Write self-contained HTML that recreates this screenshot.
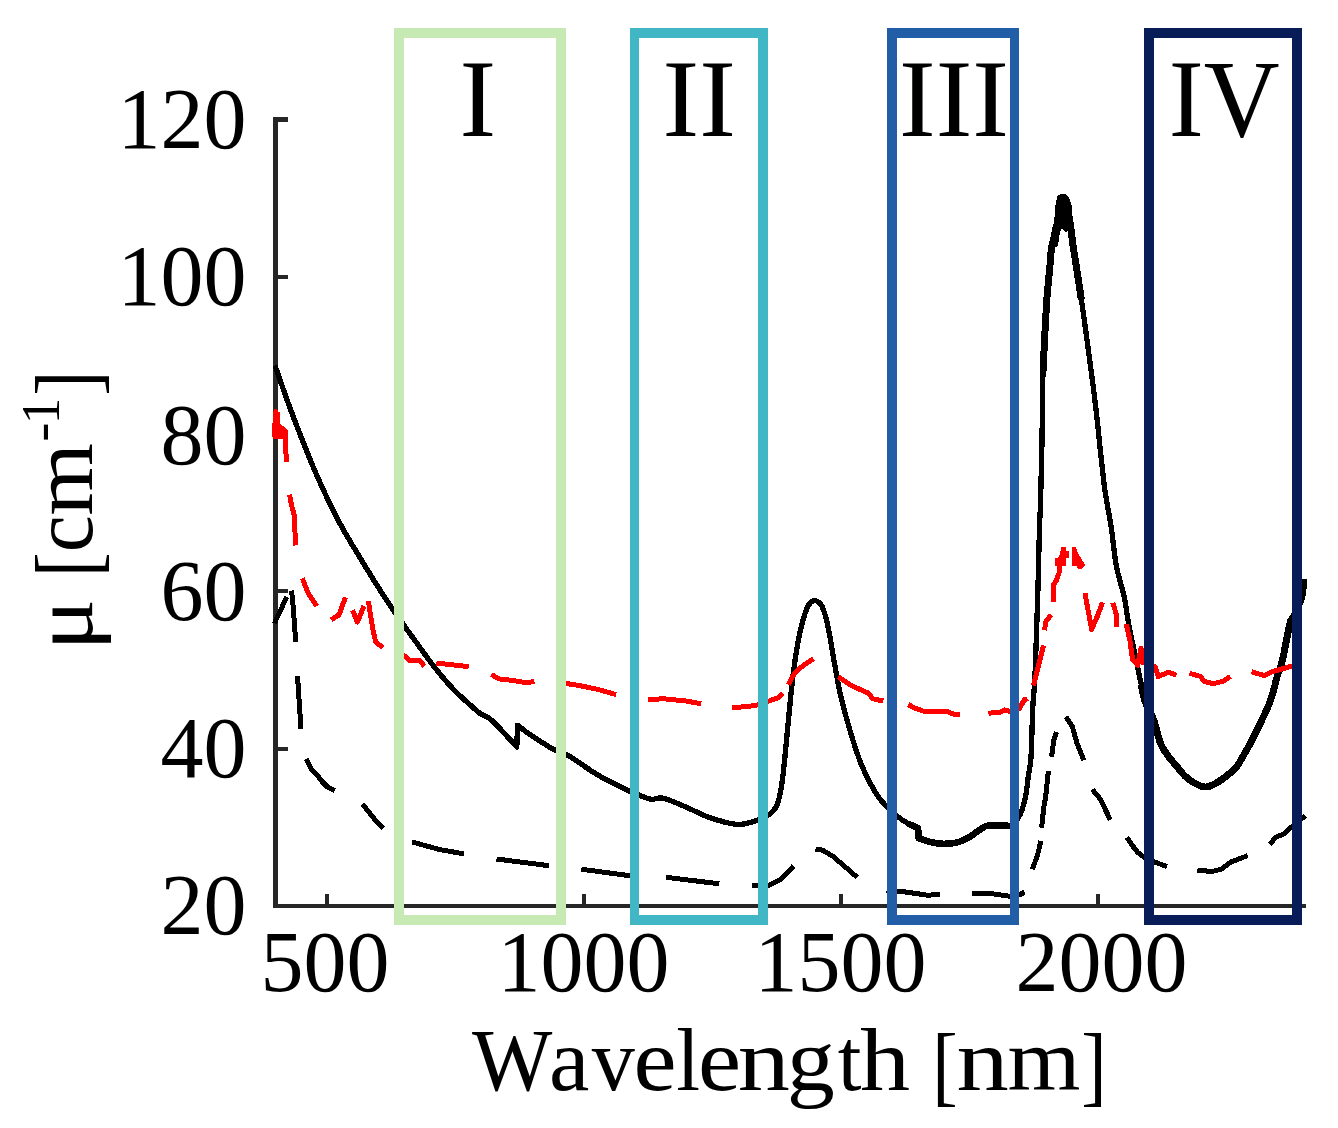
<!DOCTYPE html>
<html><head><meta charset="utf-8"><style>
html,body{margin:0;padding:0;background:#fff;overflow:hidden}
svg{display:block}
</style></head><body>
<svg width="1338" height="1128" viewBox="0 0 1338 1128">
<rect x="0" y="0" width="1338" height="1128" fill="#fff"/>
<g fill="#262626" shape-rendering="crispEdges">
<rect x="273" y="117" width="5" height="791"/>
<rect x="273" y="904" width="1033" height="4"/>
<rect x="278" y="117" width="10" height="5"/>
<rect x="278" y="275" width="10" height="4"/>
<rect x="278" y="432" width="10" height="4"/>
<rect x="278" y="589" width="10" height="4"/>
<rect x="278" y="747" width="10" height="4"/>
<rect x="325" y="894" width="4" height="10"/>
<rect x="582" y="894" width="4" height="10"/>
<rect x="839" y="894" width="4" height="10"/>
<rect x="1096" y="894" width="4" height="10"/>
</g>
<g fill="none" stroke-linejoin="round" stroke-linecap="butt" shape-rendering="crispEdges">
<path d="M275.0 365.5 C278.0 373.9 286.1 398.0 293.0 416.0 C299.9 434.0 308.4 456.0 316.1 473.7 C323.8 491.4 331.5 507.5 339.2 522.1 C346.9 536.7 354.5 548.6 362.2 561.3 C369.9 574.0 378.2 587.4 385.3 598.2 C392.4 609.0 399.1 618.2 404.5 626.0 C409.9 633.8 412.8 637.6 418.0 644.8 C423.2 652.0 429.9 661.5 435.9 669.0 C441.9 676.5 447.8 683.5 453.8 689.7 C459.8 696.0 467.5 702.5 472.0 706.5 C476.5 710.5 477.7 711.8 480.9 714.0 C484.1 716.2 486.7 715.9 491.4 720.0 C496.1 724.1 505.1 734.2 509.3 738.7 C513.5 743.2 515.5 745.5 516.8 746.9 C516.9 743.3 517.4 728.8 517.5 725.2 C519.9 727.0 525.3 731.5 531.7 735.7 C538.1 739.9 549.7 747.4 555.7 750.6 C561.7 753.8 561.1 751.4 567.6 755.1 C574.1 758.8 587.5 768.6 594.5 773.0 C601.5 777.4 603.5 778.2 609.5 781.3 C615.5 784.4 625.3 789.3 630.4 791.7 C635.5 794.1 636.5 794.2 640.0 795.5 C643.5 796.8 647.6 798.8 651.5 799.3 C655.4 799.8 657.3 796.9 663.1 798.2 C668.9 799.5 678.4 803.9 686.1 807.1 C693.8 810.3 700.8 814.5 709.2 817.4 C717.7 820.3 729.1 823.8 736.8 824.4 C744.5 825.0 749.5 822.8 755.3 820.9 C761.1 819.0 767.6 816.1 771.4 812.8 C775.2 809.5 776.4 807.4 778.3 801.3 C780.2 795.1 781.4 787.8 782.9 775.9 C784.4 764.0 786.0 745.2 787.5 729.8 C789.0 714.4 790.6 697.1 792.1 683.7 C793.6 670.3 795.2 658.8 796.8 649.2 C798.3 639.6 799.5 633.4 801.4 626.1 C803.3 618.8 806.0 609.6 808.3 605.4 C810.6 601.2 812.9 600.5 815.2 600.7 C817.5 600.9 820.0 602.3 822.1 606.5 C824.2 610.7 826.0 617.5 827.9 626.1 C829.8 634.8 831.5 646.9 833.6 658.4 C835.7 669.9 837.9 683.4 840.6 695.3 C843.3 707.2 846.3 718.3 849.8 729.8 C853.2 741.3 857.1 754.0 861.3 764.4 C865.5 774.8 870.9 785.0 875.1 792.1 C879.3 799.2 883.1 802.8 886.7 806.8 C890.3 810.8 893.2 813.0 896.8 815.8 C900.3 818.6 904.5 821.5 908.0 823.6 C911.5 825.7 916.4 827.4 918.1 828.1 C918.2 829.8 918.6 836.5 918.7 838.2 C920.7 838.9 926.4 841.2 930.4 842.1 C934.4 843.0 938.5 843.7 942.8 843.8 C947.1 843.9 952.1 843.6 956.2 842.7 C960.3 841.8 963.9 840.1 967.4 838.2 C970.9 836.3 974.3 833.5 977.5 831.5 C980.7 829.5 983.1 826.9 986.5 825.9 C989.9 824.9 993.8 825.5 997.7 825.5 C1001.6 825.5 1006.3 827.7 1010.0 825.9 C1013.7 824.1 1017.5 819.8 1020.1 814.7 C1022.7 809.7 1024.3 802.2 1025.7 795.6 C1027.1 789.0 1027.6 781.4 1028.5 775.0 C1029.4 768.6 1030.3 768.3 1031.0 757.0 C1031.7 745.7 1032.2 720.1 1032.8 707.3 C1033.4 694.5 1034.3 690.3 1034.8 680.4 C1035.3 670.5 1035.5 661.6 1036.0 647.8 C1036.5 633.9 1037.1 616.9 1037.7 597.3 C1038.3 577.7 1038.9 546.2 1039.4 530.0 C1039.9 513.8 1040.2 514.8 1040.6 499.8 C1041.0 484.8 1041.6 461.4 1042.0 440.0 C1042.4 418.6 1042.3 393.6 1043.0 371.5 C1043.7 349.4 1045.4 322.6 1046.3 307.7 C1047.2 292.8 1047.7 289.7 1048.4 282.1 C1049.1 274.5 1049.8 267.7 1050.3 262.0 C1050.8 256.3 1050.8 252.5 1051.5 248.0 C1052.2 243.5 1053.5 239.3 1054.5 235.0 C1055.5 230.7 1056.8 227.0 1057.5 222.0 C1058.2 217.0 1058.4 209.0 1059.0 205.0 C1059.6 201.0 1060.1 199.2 1061.0 198.0 C1061.9 196.8 1063.5 196.8 1064.5 198.0 C1065.5 199.2 1066.1 201.0 1067.0 205.0 C1067.9 209.0 1069.0 215.5 1070.0 222.0 C1071.0 228.5 1071.7 235.9 1072.8 243.8 C1073.9 251.7 1075.4 260.2 1076.8 269.4 C1078.2 278.6 1079.8 289.2 1081.3 299.1 C1082.8 309.0 1084.1 318.6 1085.5 328.9 C1086.9 339.2 1088.4 350.2 1089.8 360.9 C1091.2 371.5 1092.8 382.9 1094.0 392.8 C1095.2 402.7 1095.5 404.4 1097.2 420.0 C1098.9 435.6 1102.1 468.8 1104.4 486.5 C1106.7 504.2 1109.1 513.1 1111.1 526.4 C1113.1 539.7 1114.2 554.5 1116.4 566.3 C1118.6 578.1 1122.5 588.5 1124.4 597.3 C1126.3 606.1 1126.4 611.3 1127.8 619.2 C1129.2 627.1 1131.1 636.4 1132.8 644.5 C1134.5 652.6 1136.5 661.3 1137.9 668.0 C1139.3 674.7 1140.2 679.6 1141.3 684.9 C1142.4 690.2 1143.1 695.5 1144.6 700.0 C1146.0 704.5 1148.4 708.3 1150.0 712.0 C1151.6 715.7 1152.6 716.7 1154.4 722.0 C1156.2 727.3 1158.3 738.1 1160.7 743.9 C1163.1 749.7 1166.0 753.0 1168.7 756.7 C1171.4 760.4 1174.0 763.1 1176.7 766.3 C1179.4 769.5 1181.8 773.0 1184.7 775.8 C1187.6 778.6 1190.8 781.1 1194.3 783.0 C1197.8 784.9 1202.0 786.9 1205.4 787.0 C1208.9 787.1 1211.8 785.4 1215.0 783.8 C1218.2 782.2 1221.1 780.0 1224.6 777.4 C1228.0 774.8 1232.5 771.6 1235.7 767.9 C1238.9 764.2 1241.0 759.6 1243.7 755.1 C1246.4 750.6 1249.3 745.2 1251.7 740.7 C1254.1 736.2 1256.5 731.2 1258.1 728.0 C1259.7 724.8 1259.4 725.3 1261.3 721.2 C1263.2 717.1 1267.2 709.0 1269.3 703.6 C1271.4 698.2 1272.7 693.4 1274.0 689.0 C1275.3 684.6 1275.6 681.7 1277.0 677.0 C1278.4 672.3 1280.9 666.3 1282.3 661.0 C1283.7 655.7 1284.4 650.4 1285.5 645.1 C1286.6 639.8 1287.8 633.4 1288.7 629.1 C1289.6 624.9 1288.7 624.6 1290.9 619.6 C1293.1 614.6 1299.7 606.2 1302.0 599.4 C1304.3 592.6 1304.2 582.4 1304.6 579.0" stroke="#000" stroke-width="5.3"/>
<path d="M1043.0 371.5 C1043.5 360.9 1045.4 322.6 1046.3 307.7 C1047.2 292.8 1047.7 289.7 1048.4 282.1 C1049.1 274.5 1049.8 267.7 1050.3 262.0 C1050.8 256.3 1050.8 252.5 1051.5 248.0 C1052.2 243.5 1053.5 239.3 1054.5 235.0 C1055.5 230.7 1056.8 227.0 1057.5 222.0 C1058.2 217.0 1058.4 209.0 1059.0 205.0 C1059.6 201.0 1060.1 199.2 1061.0 198.0 C1061.9 196.8 1063.5 196.8 1064.5 198.0 C1065.5 199.2 1066.1 201.0 1067.0 205.0 C1067.9 209.0 1069.0 215.5 1070.0 222.0 C1071.0 228.5 1071.7 235.9 1072.8 243.8 C1073.9 251.7 1075.4 260.2 1076.8 269.4 C1078.2 278.6 1080.5 294.2 1081.3 299.1" stroke="#000" stroke-width="7"/>
<path d="M908.0 823.6 C909.7 824.4 916.4 827.4 918.1 828.1 C918.2 829.8 918.6 836.5 918.7 838.2 C920.7 838.9 926.4 841.2 930.4 842.1 C934.4 843.0 938.5 843.7 942.8 843.8 C947.1 843.9 952.1 843.6 956.2 842.7 C960.3 841.8 963.9 840.1 967.4 838.2 C970.9 836.3 974.3 833.5 977.5 831.5 C980.7 829.5 983.1 826.9 986.5 825.9 C989.9 824.9 993.8 825.5 997.7 825.5 C1001.6 825.5 1008.0 825.8 1010.0 825.9" stroke="#000" stroke-width="6.6"/>
<path d="M1057 205 L1057 196 L1061 194 L1064 196.5 L1066 195 L1069 197 L1071.5 205 L1072 226 L1069 231 L1065 232 L1062 228 L1060 232 L1058 246 L1053 249 L1051.5 230 L1054 222 L1057 220 Z" fill="#000" stroke="none"/>
<path d="M1141.3 684.9 C1141.8 687.4 1143.1 695.5 1144.6 700.0 C1146.0 704.5 1148.4 708.3 1150.0 712.0 C1151.6 715.7 1152.6 716.7 1154.4 722.0 C1156.2 727.3 1158.3 738.1 1160.7 743.9 C1163.1 749.7 1166.0 753.0 1168.7 756.7 C1171.4 760.4 1174.0 763.1 1176.7 766.3 C1179.4 769.5 1181.8 773.0 1184.7 775.8 C1187.6 778.6 1190.8 781.1 1194.3 783.0 C1197.8 784.9 1202.0 786.9 1205.4 787.0 C1208.9 787.1 1211.8 785.4 1215.0 783.8 C1218.2 782.2 1221.1 780.0 1224.6 777.4 C1228.0 774.8 1232.5 771.6 1235.7 767.9 C1238.9 764.2 1241.0 759.6 1243.7 755.1 C1246.4 750.6 1249.3 745.2 1251.7 740.7 C1254.1 736.2 1256.5 731.2 1258.1 728.0 C1259.7 724.8 1259.4 725.3 1261.3 721.2 C1263.2 717.1 1267.2 709.0 1269.3 703.6 C1271.4 698.2 1272.7 693.4 1274.0 689.0 C1275.3 684.6 1275.6 681.7 1277.0 677.0 C1278.4 672.3 1280.9 666.3 1282.3 661.0 C1283.7 655.7 1284.4 650.4 1285.5 645.1 C1286.6 639.8 1287.8 633.4 1288.7 629.1 C1289.6 624.9 1290.5 621.2 1290.9 619.6" stroke="#000" stroke-width="7"/>
<path d="M274.4 623.4 L286.8 596.8 M291.6 590.6 L293.5 610.0 L295.7 642.0 M297.5 675.7 L301.0 729.0 M306.1 758.8 L312.5 771.0 L317.5 775.0 L321.5 781.0 L327.0 786.5 L334.8 790.6 M362.6 804.2 L374.3 818.9 L383.3 828.3 M412.0 841.9 L438.9 849.4 L464.0 853.9 M496.5 859.0 L549.0 865.7 M581.3 869.2 L635.0 876.4 M666.0 877.3 L719.3 883.8 M751.6 885.9 L768.3 885.4 L780.9 879.5 L787.2 873.2 L793.5 865.9 M815.5 849.2 L822.8 850.2 L833.2 856.5 L857.3 877.4 M886.6 890.0 L906.5 892.1 L927.4 895.2 L940.0 894.6 M972.4 893.1 L990.2 893.5 L1010.0 896.3 L1019.0 895.0 L1024.7 892.1 M1032.4 869.4 L1037.7 854.3 L1040.9 841.0 M1041.6 827.7 L1043.9 806.4 L1045.7 796.6 L1048.4 770.9 M1051.6 756.7 L1053.7 740.8 L1056.4 731.9 M1065.7 716.8 L1072.3 726.6 L1076.8 742.6 L1083.9 760.3 M1092.4 789.5 L1100.4 799.3 L1110.2 819.7 M1127.0 837.4 L1132.3 845.4 L1137.7 852.5 L1144.8 857.8 L1155.4 862.2 L1166.9 866.7 M1197.4 870.0 L1211.8 871.6 L1221.4 869.2 L1231.0 862.0 L1247.7 855.6 M1270.0 844.5 L1275.6 837.3 L1283.6 834.1 L1291.6 826.9 L1305.2 815.7" stroke="#000" stroke-width="5"/>
<path d="M274.0 437.0 L275.8 411.5 L277.0 425.0 L279.2 426.5 L285.0 430.5 L285.6 448.4 L286.7 462.2 M289.6 494.5 L291.3 504.3 L294.4 516.0 L295.5 545.5 M302.3 578.2 L307.9 592.5 L311.9 598.9 L316.7 606.1 M331.1 619.7 L339.0 614.9 L345.4 597.3 M352.6 610.1 L357.4 622.1 L363.0 608.5 L364.0 606.0 M368.5 601.0 L370.0 612.0 L373.0 630.0 L375.7 642.0 L382.9 647.6 M400.0 652.0 L409.5 660.4 L420.2 660.8 L424.3 666.2 M436.4 663.0 L459.7 665.7 L468.7 666.6 M491.5 674.4 L498.9 678.9 L512.3 680.4 L525.8 682.6 L534.5 681.6 M560.0 682.5 L579.6 685.6 L597.5 689.3 L616.2 694.6 M648.1 699.9 L663.1 698.7 L686.1 701.0 L701.1 703.8 M732.2 707.9 L755.3 705.6 L769.1 701.0 L778.3 697.6 L782.9 693.0 M788.2 684.8 L791.2 678.9 L795.7 672.1 L801.6 666.9 L807.6 662.4 L813.6 658.7 M838.2 676.8 L852.1 686.0 L868.2 693.0 L872.8 698.7 L883.2 701.0 M908.3 704.6 L914.4 707.9 L923.8 711.3 L946.7 711.3 L954.8 714.7 L960.1 714.0 M988.4 713.3 L1000.5 712.0 L1004.5 710.0 L1010.0 711.3 L1019.3 708.6 L1024.7 699.2 L1026.7 701.9 M1033.5 685.7 L1038.2 666.9 L1043.5 645.4 M1044.5 630.2 L1046.1 620.9 L1051.2 615.0 M1053.5 602.0 L1053.5 585.0 L1056.5 580.0 L1059.0 573.0 L1059.0 562.0 L1063.5 553.0 L1063.5 546.5 M1084.9 593.1 L1088.2 610.8 L1091.6 629.3 L1097.5 615.9 L1102.5 602.4 M1112.8 602.8 L1116.3 614.2 L1117.0 627.0 M1126.2 624.1 L1129.8 639.7 L1132.6 659.6 L1137.6 665.2 L1141.1 648.2 L1142.6 662.4 L1155.3 666.7 L1158.2 676.6 L1168.1 672.3 L1176.6 675.2 M1189.5 673.3 L1200.6 676.5 L1203.8 681.3 L1213.4 683.7 L1223.0 681.3 L1230.2 676.5 M1251.7 671.7 L1264.5 675.7 L1272.4 671.7 L1283.6 668.5 L1291.6 666.1 L1302.0 663.7" stroke="#f00" stroke-width="5"/>
<path fill="#f00" stroke="none" d="M273 438.6 L273 424 L275.5 420 L275.5 411.5 L280 411.5 L280 425 L283.5 428 L288 430.5 L288 438.6 Z"/>
<path fill="#f00" stroke="none" d="M1055.2 558 L1066.1 558 L1066.1 565.5 L1055.2 565.5 Z M1060 551 L1069 551 L1069 558 L1060 558 Z M1072 547 L1075.5 547 L1078 553 L1085 565 L1082 569 L1078 569 L1077 566 L1072 566 Z"/>
</g>
<g shape-rendering="crispEdges">
<path fill="#c7e9b4" d="M394 28 H566 V925 H394 Z M404 38 V915 H556 V38 Z" fill-rule="evenodd"/>
<path fill="#41b6c4" d="M630 28 H768 V925 H630 Z M639 38 V915 H758 V38 Z" fill-rule="evenodd"/>
<path fill="#225ea8" d="M887 28 H1019 V925 H887 Z M897 38 V915 H1010 V38 Z" fill-rule="evenodd"/>
<path fill="#081d58" d="M1144 28 H1302 V925 H1144 Z M1154 38 V915 H1292 V38 Z" fill-rule="evenodd"/>
</g>
<g font-family="Liberation Serif, serif" fill="#000">
<text x="246.6" y="147.8" font-size="86" text-anchor="end">120</text>
<text x="246.6" y="305.1" font-size="86" text-anchor="end">100</text>
<text x="246.6" y="464.4" font-size="86" text-anchor="end">80</text>
<text x="246.6" y="619.7" font-size="86" text-anchor="end">60</text>
<text x="246.6" y="777.0" font-size="86" text-anchor="end">40</text>
<text x="246.6" y="934.3" font-size="86" text-anchor="end">20</text>
<text x="325.0" y="990.5" font-size="86" text-anchor="middle">500</text>
<text x="583.5" y="990.5" font-size="86" text-anchor="middle">1000</text>
<text x="840.5" y="990.5" font-size="86" text-anchor="middle">1500</text>
<text x="1101.5" y="990.5" font-size="86" text-anchor="middle">2000</text>
<text x="477.7" y="136" font-size="110" text-anchor="middle">I</text>
<text x="699.2" y="136" font-size="110" text-anchor="middle">II</text>
<text x="954" y="136" font-size="110" text-anchor="middle">III</text>
<text x="1168.8" y="136" font-size="110" textLength="110.9" lengthAdjust="spacingAndGlyphs">IV</text>
<text x="472.12" y="1089.80" font-size="88.5" textLength="80.35" lengthAdjust="spacingAndGlyphs">W</text>
<text x="549.10" y="1089.80" font-size="88.5" textLength="40.34" lengthAdjust="spacingAndGlyphs">a</text>
<text x="591.80" y="1089.80" font-size="88.5" textLength="43.10" lengthAdjust="spacingAndGlyphs">v</text>
<text x="633.41" y="1089.80" font-size="88.5" textLength="43.05" lengthAdjust="spacingAndGlyphs">e</text>
<text x="676.18" y="1089.80" font-size="88.5" textLength="23.83" lengthAdjust="spacingAndGlyphs">l</text>
<text x="698.01" y="1089.80" font-size="88.5" textLength="43.05" lengthAdjust="spacingAndGlyphs">e</text>
<text x="737.71" y="1089.80" font-size="88.5" textLength="52.17" lengthAdjust="spacingAndGlyphs">n</text>
<text x="786.87" y="1089.80" font-size="88.5" textLength="48.06" lengthAdjust="spacingAndGlyphs">g</text>
<text x="837.87" y="1089.80" font-size="88.5" textLength="23.73" lengthAdjust="spacingAndGlyphs">t</text>
<text x="860.12" y="1089.80" font-size="88.5" textLength="49.99" lengthAdjust="spacingAndGlyphs">h</text>
<text x="932.13" y="1094.50" font-size="88.5" textLength="25.43" lengthAdjust="spacingAndGlyphs">[</text>
<text x="956.60" y="1089.80" font-size="88.5" textLength="52.28" lengthAdjust="spacingAndGlyphs">n</text>
<text x="1007.53" y="1089.80" font-size="88.5" textLength="72.93" lengthAdjust="spacingAndGlyphs">m</text>
<text x="1081.24" y="1094.50" font-size="88.5" textLength="25.43" lengthAdjust="spacingAndGlyphs">]</text>
<g transform="translate(92 642.6) rotate(-90)">
<text x="-7.83" y="0.00" font-size="86" textLength="51.79" lengthAdjust="spacingAndGlyphs">&#956;</text>
<text x="65.67" y="4.50" font-size="88" textLength="24.83" lengthAdjust="spacingAndGlyphs">[</text>
<text x="90.43" y="0.00" font-size="86" textLength="36.93" lengthAdjust="spacingAndGlyphs">c</text>
<text x="126.74" y="0.00" font-size="86" textLength="72.72" lengthAdjust="spacingAndGlyphs">m</text>
<text x="200.86" y="-33.50" font-size="55.6" textLength="19.23" lengthAdjust="spacingAndGlyphs">-</text>
<text x="218.36" y="-33.50" font-size="55.6" textLength="26.42" lengthAdjust="spacingAndGlyphs">1</text>
<text x="246.97" y="4.50" font-size="88" textLength="25.13" lengthAdjust="spacingAndGlyphs">]</text>
</g>
</g>
</svg>
</body></html>
